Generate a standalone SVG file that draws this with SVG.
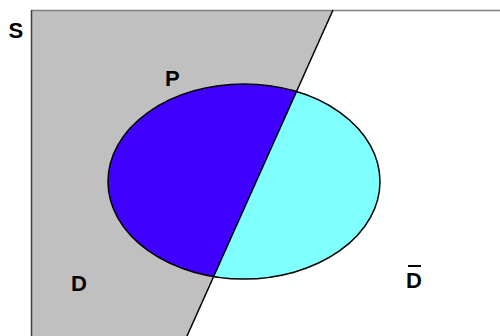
<svg xmlns="http://www.w3.org/2000/svg" width="500" height="336" viewBox="0 0 500 336">
  <style>
    .lbl { font-family: "Liberation Sans", Arial, sans-serif; font-weight: bold; font-size: 22px; fill: #000; }
    .edge { stroke: #000; stroke-width: 1.5; fill: none; }
  </style>
  <defs>
    <clipPath id="dclip">
      <polygon points="31,10 333,10 187,336 31,336"/>
    </clipPath>
  </defs>
  <rect width="500" height="336" fill="#fff"/>
  <g id="S">
    <polygon points="31,10 333,10 187,336 31,336" fill="#c0c0c0"/>
    <line x1="31" y1="10.5" x2="500" y2="10.5" stroke="#808080" stroke-width="1.5"/>
    <line x1="31.5" y1="10" x2="31.5" y2="336" stroke="#404040" stroke-width="1.5"/>
  </g>
  <g id="P">
    <ellipse cx="244" cy="181.5" rx="136" ry="97.5" fill="#80ffff"/>
    <ellipse cx="244" cy="181.5" rx="136" ry="97.5" fill="#4000ff" clip-path="url(#dclip)"/>
    <ellipse cx="244" cy="181.5" rx="136" ry="97.5" class="edge"/>
  </g>
  <g id="connectors">
    <line x1="333" y1="10" x2="187" y2="336" class="edge"/>
  </g>
  <g id="label-S"><text class="lbl" x="8.5" y="38">S</text></g>
  <g id="label-P"><text class="lbl" x="165" y="85.5">P</text></g>
  <g id="label-D"><text class="lbl" x="71" y="291">D</text></g>
  <g id="label-notD">
    <text class="lbl" x="406" y="288">D</text>
    <line x1="408" y1="266" x2="421" y2="266" stroke="#000" stroke-width="2"/>
  </g>
</svg>
